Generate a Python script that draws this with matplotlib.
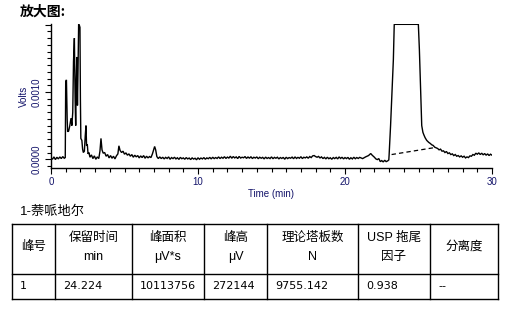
import matplotlib
matplotlib.use("Agg")
import matplotlib.pyplot as plt
from matplotlib.ticker import MultipleLocator, FixedLocator

plt.rcParams['font.family'] = ['Liberation Sans', 'Noto Sans CJK SC', 'DejaVu Sans']

# ---------------- data ----------------
# chromatogram trace: time (min) and signal (microvolts)
times = [0.0, 0.1, 0.2, 0.3, 0.4, 0.5, 0.6, 0.7, 0.8, 0.9, 0.97,
         1.00, 1.05, 1.10, 1.13, 1.20, 1.28, 1.36, 1.42, 1.48, 1.53, 1.59, 1.64, 1.68,
         1.72, 1.76, 1.80, 1.84, 1.88, 1.93, 1.97, 2.00, 2.03, 2.10, 2.15, 2.20, 2.27,
         2.33, 2.38, 2.42, 2.47, 2.52, 2.58, 2.65, 2.75, 2.85, 2.95, 3.05, 3.15, 3.25,
         3.33, 3.40, 3.47, 3.55, 3.65, 3.75, 3.85, 3.95, 4.05, 4.15, 4.25, 4.35, 4.45,
         4.55, 4.62, 4.70, 4.80, 4.90, 5.0, 5.1, 5.2, 5.3, 5.4, 5.5, 5.6, 5.7, 5.8, 5.9,
         6.0, 6.1, 6.2, 6.3, 6.4, 6.5, 6.6, 6.7, 6.8, 6.9, 7.0, 7.05, 7.12, 7.2, 7.3,
         7.4, 7.5, 7.6, 7.7, 7.8, 7.9, 8.0, 8.1, 8.2, 8.3,
         8.4, 8.5, 8.6, 8.7, 8.8, 8.9, 9.0, 9.1, 9.2, 9.3,
         9.4, 9.5, 9.6, 9.7, 9.8, 9.9, 10.0, 10.1, 10.2, 10.3,
         10.4, 10.5, 10.6, 10.7, 10.8, 10.9, 11.0, 11.1, 11.2, 11.3,
         11.4, 11.5, 11.6, 11.7, 11.8, 11.9, 12.0, 12.1, 12.2, 12.3,
         12.4, 12.5, 12.6, 12.7, 12.8, 12.9, 13.0, 13.1, 13.2, 13.3,
         13.4, 13.5, 13.6, 13.7, 13.8, 13.9, 14.0, 14.1, 14.2, 14.3,
         14.4, 14.5, 14.6, 14.7, 14.8, 14.9, 15.0, 15.1, 15.2, 15.3,
         15.4, 15.5, 15.6, 15.7, 15.8, 15.9, 16.0, 16.1, 16.2, 16.3,
         16.4, 16.5, 16.6, 16.7, 16.8, 16.9, 17.0, 17.1, 17.2, 17.3,
         17.4, 17.5, 17.6, 17.7, 17.8, 17.9, 18.0, 18.1, 18.2, 18.3,
         18.4, 18.5, 18.6, 18.7, 18.8, 18.9, 19.0, 19.1, 19.2, 19.3,
         19.4, 19.5, 19.6, 19.7, 19.8, 19.9, 20.0, 20.1, 20.2, 20.3,
         20.4, 20.5, 20.6, 20.7, 20.8, 20.9, 21.0,
         21.2, 21.4, 21.6, 21.75, 21.85, 22.0, 22.1, 22.2, 22.3, 22.4, 22.5,
         22.6, 22.7, 22.8, 22.9, 22.98, 23.0, 23.1, 23.2, 23.29, 23.35, 24.99,
         25.06, 25.15, 25.22, 25.3, 25.37, 25.45, 25.56,
         25.7, 25.8, 25.9, 26.0, 26.1, 26.2, 26.3, 26.4, 26.5, 26.6, 26.7, 26.8,
         26.9, 27.0, 27.1, 27.2, 27.3, 27.4, 27.5, 27.6, 27.7, 27.8, 27.9, 28.0,
         28.1, 28.2, 28.3, 28.4, 28.5, 28.6, 28.7, 28.8, 28.9, 29.0, 29.1, 29.2,
         29.3, 29.4, 29.5, 29.6, 29.7, 29.8, 29.9, 30.0]
signal_uV = [20, 0, 35, -5, 30, 5, 35, 10, 40, 15, 25,
             1150, 1180, 600, 410, 420, 500, 610, 500, 700, 1450, 1800, 900, 500,
             1200, 1520, 800, 1350, 2005, 1990, 1960, 900, 310, 280, 150, 100, 120,
             350, 500, 200, 220, 80, 100, 30, 65, 10, 50, 0, 35, 10,
             120, 310, 140, 90, 100, 45, 70, 20, 55, 15, 45, 5, 50,
             80, 200, 130, 100, 120, 75, 95, 60, 80, 45, 70, 30, 60, 35, 55,
             20, 50, 25, 55, 15, 45, 20, 40, 25, 80, 150, 190, 140, 40, 10,
             35, 10, 30, 5, 28, 12, 35, 0, 25, 10,
             30, 5, 22, -2, 28, 8, 20, 0, 25, 5,
             18, -5, 20, 3, 15, -8, 22, 0, 18, 5,
             25, 0, 20, 8, 28, 5, 30, 10, 25, 12,
             35, 10, 30, 15, 38, 12, 32, 18, 45, 15,
             40, 20, 35, 10, 42, 18, 30, 22, 40, 12,
             35, 15, 38, 10, 30, 18, 35, 8, 30, 15,
             28, 5, 32, 12, 25, 10, 35, 8, 28, 15,
             30, 5, 25, 12, 28, 0, 30, 10, 25, 15,
             32, 8, 35, 12, 28, 15, 38, 10, 30, 20,
             35, 15, 40, 25, 50, 55, 40, 30, 42, 20,
             35, 10, 28, 5, 30, 8, 22, 0, 25, 10,
             28, 5, 35, 12, 30, 5, 25, 10, 28, 0,
             22, 5, 30, 8, 25, 12, 28,
             10, 35, 55, 85, 60, 30, 5, -5, 10, -35, -20,
             -40, -15, -35, -25, -10, 60, 500, 1030, 1480, 2005, 2005,
             1630, 990, 500, 400, 360, 320, 280,
             250, 235, 215, 205, 180, 170, 160, 140, 150, 120, 125, 100,
             115, 85, 95, 70, 80, 55, 70, 45, 55, 35, 50, 30,
             45, 20, 35, 25, 50, 45, 70, 60, 90, 75, 95, 70,
             90, 65, 85, 60, 80, 55, 75, 60]

# integration baseline of the main peak (dashed)
baseline_t = [23.17, 26.0]
baseline_uV = [70, 170]

x_ticks = [0, 10, 20, 30]
y_ticks = [0.0, 0.001, 0.002]
y_ticklabels = ['0.0000', '0.0010', '']

sample_name = '1-萘哌地尔'
table_headers = ['峰号', '保留时间\nmin', '峰面积\nμV*s', '峰高\nμV', '理论塔板数\nN',
                 'USP 拖尾\n因子', '分离度']
table_row = ['1', '24.224', '10113756', '272144', '9755.142', '0.938', '--']

# ---------------- figure ----------------
W, H = 522, 309
fig = plt.figure(figsize=(W / 100, H / 100), dpi=100)

navy = '#14146a'
ax = fig.add_axes([51 / W, 1 - 168 / H, 441 / W, 144 / H])
volts = [v * 1e-6 for v in signal_uV]
ax.plot(times, volts, color='black', lw=1.0, solid_joinstyle='miter')
ax.plot(baseline_t, [v * 1e-6 for v in baseline_uV], color='black', lw=0.9,
        ls=(0, (3.5, 2.5)))
ax.set_xlim(0, 30)
ax.set_ylim(-0.00013, 0.00201)
for s in ['top', 'right']:
    ax.spines[s].set_visible(False)
for s in ['left', 'bottom']:
    ax.spines[s].set_linewidth(1.0)
ax.xaxis.set_major_locator(FixedLocator(x_ticks))
ax.xaxis.set_minor_locator(MultipleLocator(1))
ax.yaxis.set_major_locator(FixedLocator(y_ticks))
ax.set_yticklabels(y_ticklabels)
ax.yaxis.set_minor_locator(MultipleLocator(0.0001))
ax.tick_params(which='major', direction='out', length=4.5, width=0.8, labelsize=7,
               labelcolor=navy, pad=2)
ax.tick_params(which='minor', direction='out', length=3, width=0.8)
for lab in ax.get_yticklabels():
    lab.set_rotation(90)
    lab.set_va('center')
ax.set_xlabel('Time (min)', fontsize=7, color=navy, labelpad=1.5)
ax.set_ylabel('Volts', fontsize=7, color=navy, labelpad=2)

# overlay in pixel coordinates for texts & table
ov = fig.add_axes([0, 0, 1, 1], zorder=-1)
ov.set_xlim(0, W)
ov.set_ylim(H, 0)
ov.axis('off')

ov.text(20, 12, '放大图:', fontsize=10, fontweight='bold', va='center', ha='left',
        family=['Noto Sans CJK SC', 'DejaVu Sans'])
ov.text(20, 212, sample_name, fontsize=9.5, va='center', ha='left',
        family=['Liberation Sans', 'Noto Sans CJK SC'])

col_x = [12, 55, 132, 204, 267, 358, 430, 498]
row_y = [224, 274, 299]
lw = 1.0
for yv in row_y:
    ov.plot([col_x[0], col_x[-1]], [yv, yv], color='black', lw=lw)
for xv in col_x:
    ov.plot([xv, xv], [row_y[0], row_y[-1]], color='black', lw=lw)

hfam = ['Liberation Sans', 'Noto Sans CJK SC']
for i, h in enumerate(table_headers):
    cx = (col_x[i] + col_x[i + 1]) / 2
    lines = h.split('\n')
    if len(lines) == 1:
        ov.text(cx, 247, lines[0], fontsize=9, ha='center', va='center', family=hfam)
    else:
        ov.text(cx, 238, lines[0], fontsize=9, ha='center', va='center', family=hfam)
        ov.text(cx, 257, lines[1], fontsize=9, ha='center', va='center', family=hfam)
for i, v in enumerate(table_row):
    ov.text(col_x[i] + 8, 286, v, fontsize=8, ha='left', va='center',
            family=['DejaVu Sans'])

fig.savefig('out.png', dpi=100)
